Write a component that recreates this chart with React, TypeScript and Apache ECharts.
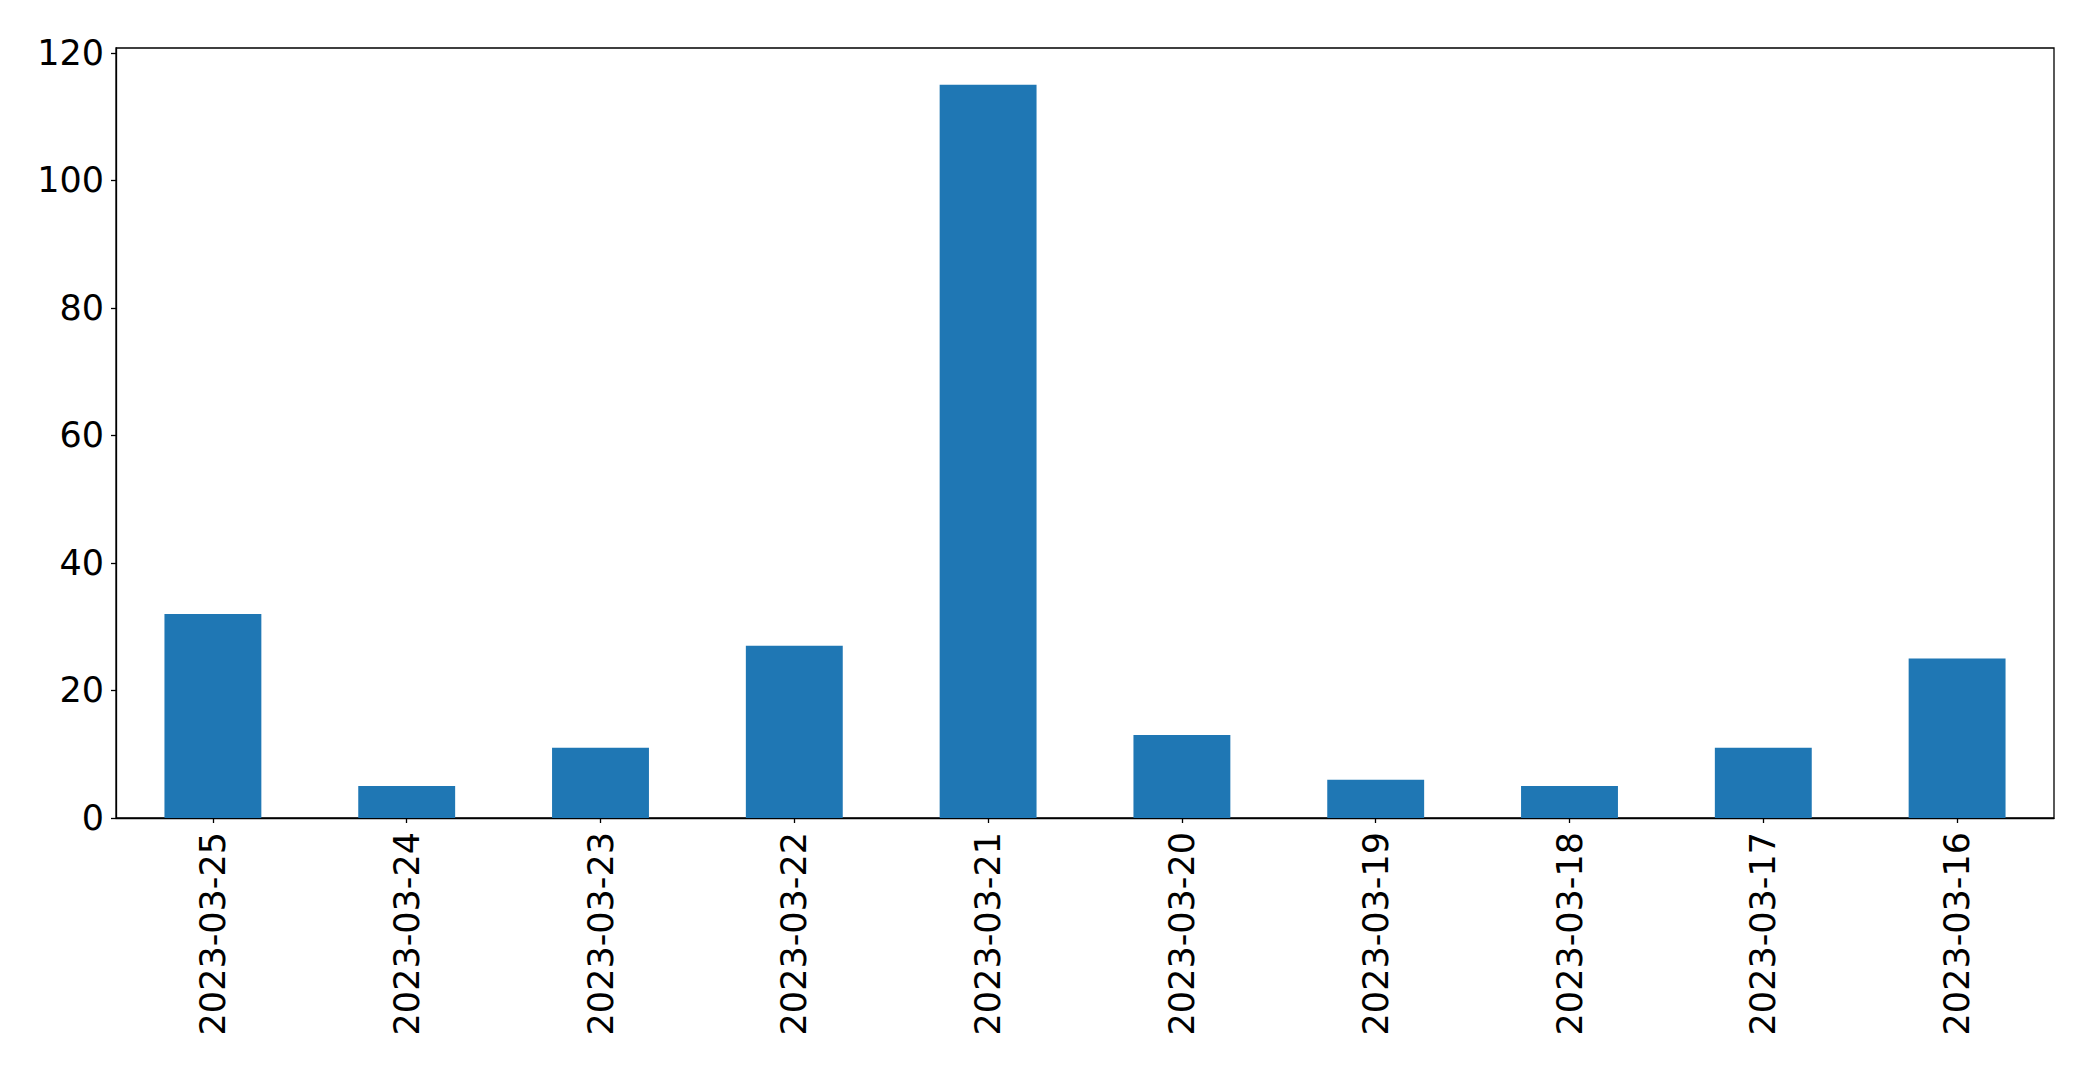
import React, { useEffect, useRef } from "react";
import * as echarts from "echarts";

const categories = [
  "2023-03-25",
  "2023-03-24",
  "2023-03-23",
  "2023-03-22",
  "2023-03-21",
  "2023-03-20",
  "2023-03-19",
  "2023-03-18",
  "2023-03-17",
  "2023-03-16",
];
const counts = [32, 5, 11, 27, 115, 13, 6, 5, 11, 25];
const yTicks = [0, 20, 40, 60, 80, 100, 120];
const yMax = 120.75;

export default function App() {
  const ref = useRef<HTMLDivElement>(null);
  useEffect(() => {
    if (!ref.current) return;
    const chart = echarts.init(ref.current, undefined, { renderer: "svg" });
    const font = "DejaVu Sans";
    chart.setOption({
      animation: false,
      backgroundColor: "#ffffff",
      grid: {
        left: 116,
        top: 48,
        right: 39,
        bottom: 252,
        show: true,
        borderColor: "#000000",
        borderWidth: 1.3,
        backgroundColor: "transparent",
      },
      xAxis: {
        type: "category",
        data: categories,
        boundaryGap: true,
        axisLine: { show: true, lineStyle: { color: "#000000", width: 1.3 } },
        axisTick: {
          show: true,
          alignWithLabel: true,
          length: 5,
          lineStyle: { color: "#000000", width: 1.3 },
        },
        axisLabel: {
          rotate: 90,
          margin: 14,
          color: "#000000",
          fontFamily: font,
          fontSize: 35,
          interval: 0,
        },
        splitLine: { show: false },
      },
      yAxis: {
        type: "value",
        min: 0,
        max: yMax,
        interval: 20,
        axisLine: { show: true, lineStyle: { color: "#000000", width: 1.3 } },
        axisTick: {
          show: true,
          length: 5,
          customValues: yTicks,
          lineStyle: { color: "#000000", width: 1.3 },
        },
        axisLabel: {
          margin: 12,
          color: "#000000",
          fontFamily: font,
          fontSize: 35,
          customValues: yTicks,
        },
        splitLine: { show: false },
      },
      series: [
        {
          type: "bar",
          data: counts,
          barWidth: "50%",
          itemStyle: { color: "#1f77b4" },
        },
      ],
    });
    return () => chart.dispose();
  }, []);
  return (
    <div
      ref={ref}
      style={{ position: "absolute", left: 0, top: 0, width: 2093, height: 1070 }}
    />
  );
}
